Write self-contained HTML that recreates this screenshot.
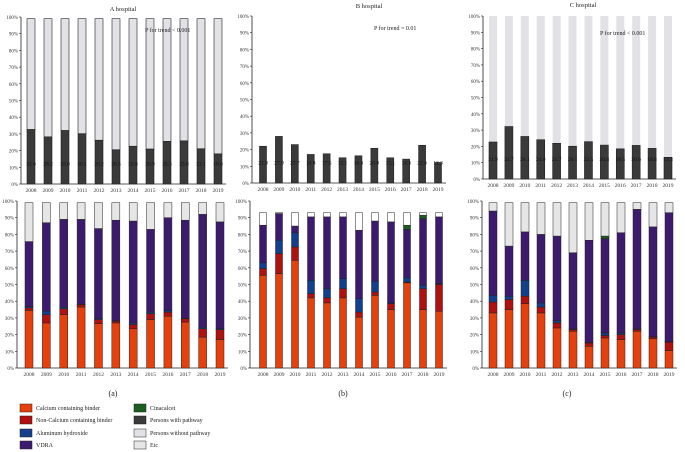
<!DOCTYPE html>
<html><head><meta charset="utf-8"><style>
body{margin:0;background:#fff;width:685px;height:452px;overflow:hidden}
svg{display:block;font-family:"Liberation Serif",serif}
</style></head><body>
<svg id="chart" width="685" height="452" viewBox="0 0 685 452"></svg>
<script>
const years=['2008','2009','2010','2011','2012','2013','2014','2015','2016','2017','2018','2019'];
const pctTicks=['0%','10%','20%','30%','40%','50%','60%','70%','80%','90%','100%'];
const aPathway=[32.6,28.2,32.0,30.1,26.2,20.5,22.6,20.9,25.5,25.8,21.1,18.0];
const aPathLabels=['32.6','28.2','32.0','30.1','26.2','20.5','22.6','20.9','25.5','25.8','21.1','18.0'];
const bPathway=[22.0,27.9,23.0,17.1,17.5,15.1,16.3,20.8,15.1,14.3,22.6,12.3];
const bPathLabels=['21.8','27.9','22.7','16.8','17.5','15.1','16.3','20.8','15.1','14.3','22.6','12.3'];
const cPathway=[22.7,32.2,26.1,24.1,21.9,20.1,22.9,20.8,18.5,20.6,18.8,13.3];
const cPathLabels=['21.9','31.7','26.1','24.0','21.7','20.1','22.5','20.8','18.5','20.6','18.8','13.3'];
const aCa=[34.5,27,32,36.5,26.5,27,23.5,29,31,27.5,18.5,17];
const aNonCa=[1.5,5,3.5,1.5,2.5,1,2.5,3.5,2.5,2,5,6];
const aAl=[0.7,2,1,0.3,0.5,0.3,1,1,1,0.3,1,0.5];
const aVdra=[39,53,52.5,50.7,54,60.2,61,49.5,55.5,58.7,67.5,64];
const aCin=[0,0,0,0,0,0,0,0,0,0,0,0];
const bCa=[55.5,56.5,64.5,42,39,42,30.5,43.5,35,51,35,34];
const bNonCa=[4,12,8,2.5,3,5.5,3,2,3.5,0.5,12.5,16];
const bAl=[3.5,8,8.5,8,5.5,6,8,6.5,0.5,2.5,2,0.5];
const bVdra=[22.5,16,4,38,43,37,41,36,48.5,29,40,40];
const bCin=[0,0,0,0,0,0,0,0,0,2.5,2,0];
const cCa=[33,35,38.5,33,24,22,13,18,17,22,17.5,10.5];
const cNonCa=[6.5,6,4.5,3.5,3,1,2,1.5,3,1,1,5];
const cAl=[4,2,9.5,2.5,1.5,0.3,0.3,1.5,1,0.3,0.3,0.3];
const cVdra=[50.5,30,29,41,50.5,45.7,61.2,56.5,60,71.7,65.7,77.2];
const cCin=[0,0,0,0,0,0,0,1.5,0,0,0,0];

const NS='http://www.w3.org/2000/svg';
const svg=document.getElementById('chart');
function mk(tag,attrs,parent,txt){const e=document.createElementNS(NS,tag);for(const k in attrs)e.setAttribute(k,attrs[k]);if(txt!==undefined)e.textContent=txt;(parent||svg).appendChild(e);return e;}
const COL={ca:'#e6400d',non:'#b0100f',al:'#143f8c',vdra:'#3c1b6f',cin:'#1b5e20',path:'#3a3a3a',nopath:'#e2e2e6',etc:'#e6e6e6'};

function axes(p,g,name){
  const ys=v=>p.y0-(p.y0-p.y100)*v/100;
  const xs=i=>p.c0+(p.c11-p.c0)*i/11;
  mk('line',{x1:p.ax,y1:p.y100,x2:p.ax,y2:p.y0,stroke:'#222','stroke-width':0.8},g);
  mk('line',{x1:p.ax,y1:p.y0,x2:p.c11+8,y2:p.y0,stroke:'#222','stroke-width':0.8},g);
  pctTicks.forEach((t,i)=>{const y=ys(i*10);
    mk('line',{x1:p.ax-2,y1:y,x2:p.ax,y2:y,stroke:'#222','stroke-width':0.6},g);
    const tl=mk('text',{x:p.ax-3,y:y+2,'font-size':5,'text-anchor':'end',fill:'#333'},g,t);
    
    });
  years.forEach((yr,i)=>{const tl=mk('text',{x:xs(i),y:p.y0+8,'font-size':5.5,'text-anchor':'middle',fill:'#333'},g,yr);
    
    });
  return {xs,ys};
}
function topPanel(p,vals,labels,bg,name){
  const g=mk('g',{},svg);
  
  
  const {xs,ys}=axes(p,g,name);
  vals.forEach((v,i)=>{const x=xs(i)-p.bw/2;
    if(bg){const r=mk('rect',{x:x,y:ys(p.bgTop),width:p.bw,height:ys(v)-ys(p.bgTop),fill:COL.nopath,stroke:bg.stroke,'stroke-width':0.6},g);
      
      }
    const r=mk('rect',{x:x,y:ys(v),width:p.bw,height:ys(0)-ys(v),fill:COL.path,stroke:'#222','stroke-width':0.6},g);
    
    
    const t=mk('text',{x:xs(i),y:ys(11),'font-size':5.5,'text-anchor':'middle',fill:'#111'},g,labels[i]);
    
    });
}
function bottomPanel(p,series,top,etcFill,name){
  const g=mk('g',{},svg);
  
  
  const {xs,ys}=axes(p,g,name);
  const keys=['ca','non','al','vdra','cin'];
  years.forEach((yr,i)=>{let acc=0;const x=xs(i)-p.bw/2;
    series.forEach((s,k)=>{const v=s[i];if(v<=0)return;
      const r=mk('rect',{x:x,y:ys(acc+v),width:p.bw,height:ys(acc)-ys(acc+v),fill:COL[keys[k]],stroke:'#222','stroke-width':0.5},g);
      
      
      acc+=v;});
    if(top>acc){const r=mk('rect',{x:x,y:ys(top),width:p.bw,height:ys(acc)-ys(top),fill:etcFill,stroke:'#222','stroke-width':0.5},g);
      
      }
  });
}
topPanel({ax:21,y0:184,y100:17,c0:31,c11:218,bw:8,bgTop:99},aPathway,aPathLabels,{stroke:'#222'},'a-hospital-pathway-chart');
topPanel({ax:252,y0:183,y100:16,c0:263,c11:438,bw:7},bPathway,bPathLabels,null,'b-hospital-pathway-chart');
topPanel({ax:483,y0:179,y100:16,c0:493,c11:668,bw:8,bgTop:100},cPathway,cPathLabels,{stroke:'none'},'c-hospital-pathway-chart');
bottomPanel({ax:17,y0:368,y100:201,c0:29,c11:220,bw:8},[aCa,aNonCa,aAl,aVdra,aCin],99,COL.etc,'a-medication-chart');
bottomPanel({ax:250,y0:368,y100:201,c0:263,c11:439,bw:7},[bCa,bNonCa,bAl,bVdra,bCin],93,'#ffffff','b-medication-chart');
bottomPanel({ax:482,y0:368,y100:201,c0:493,c11:669,bw:8},[cCa,cNonCa,cAl,cVdra,cCin],99,COL.etc,'c-medication-chart');
</script>
<svg style="position:absolute;left:0;top:0" width="685" height="452">
<g font-family="Liberation Serif, serif" fill="#222">
<text x="123" y="11" font-size="6.5" text-anchor="middle">A hospital</text>
<text x="369" y="8" font-size="6.5" text-anchor="middle">B hospital</text>
<text x="583" y="7" font-size="6.5" text-anchor="middle">C hospital</text>
<text x="145" y="32" font-size="6">P for trend &lt; 0.001</text>
<text x="374" y="30" font-size="6">P for trend = 0.01</text>
<text x="600" y="35" font-size="6">P for trend &lt; 0.001</text>
<text x="113" y="396" font-size="8" text-anchor="middle">(a)</text>
<text x="343" y="396" font-size="8" text-anchor="middle">(b)</text>
<text x="567" y="396" font-size="8" text-anchor="middle">(c)</text>
</g>
<g font-family="Liberation Serif, serif" font-size="6" fill="#222">
<rect x="20" y="404" width="12" height="8" fill="#e6400d" stroke="#222" stroke-width="0.5"/><text x="36" y="410">Calcium containing binder</text>
<rect x="20" y="416" width="12" height="8" fill="#b0100f" stroke="#222" stroke-width="0.5"/><text x="36" y="422">Non-Calcium containing binder</text>
<rect x="20" y="429" width="12" height="8" fill="#143f8c" stroke="#222" stroke-width="0.5"/><text x="36" y="435">Aluminum hydroxide</text>
<rect x="20" y="441" width="12" height="8" fill="#3c1b6f" stroke="#222" stroke-width="0.5"/><text x="36" y="447">VDRA</text>
<rect x="134" y="404" width="12" height="8" fill="#1b5e20" stroke="#222" stroke-width="0.5"/><text x="150" y="410">Cinacalcet</text>
<rect x="134" y="416" width="12" height="8" fill="#3a3a3a" stroke="#222" stroke-width="0.5"/><text x="150" y="422">Persons with pathway</text>
<rect x="134" y="429" width="12" height="8" fill="#e2e2e6" stroke="#222" stroke-width="0.5"/><text x="150" y="435">Persons without pathway</text>
<rect x="134" y="441" width="12" height="8" fill="#e6e6e6" stroke="#222" stroke-width="0.5"/><text x="150" y="447">Etc</text>
</g>
</svg>
</body></html>
